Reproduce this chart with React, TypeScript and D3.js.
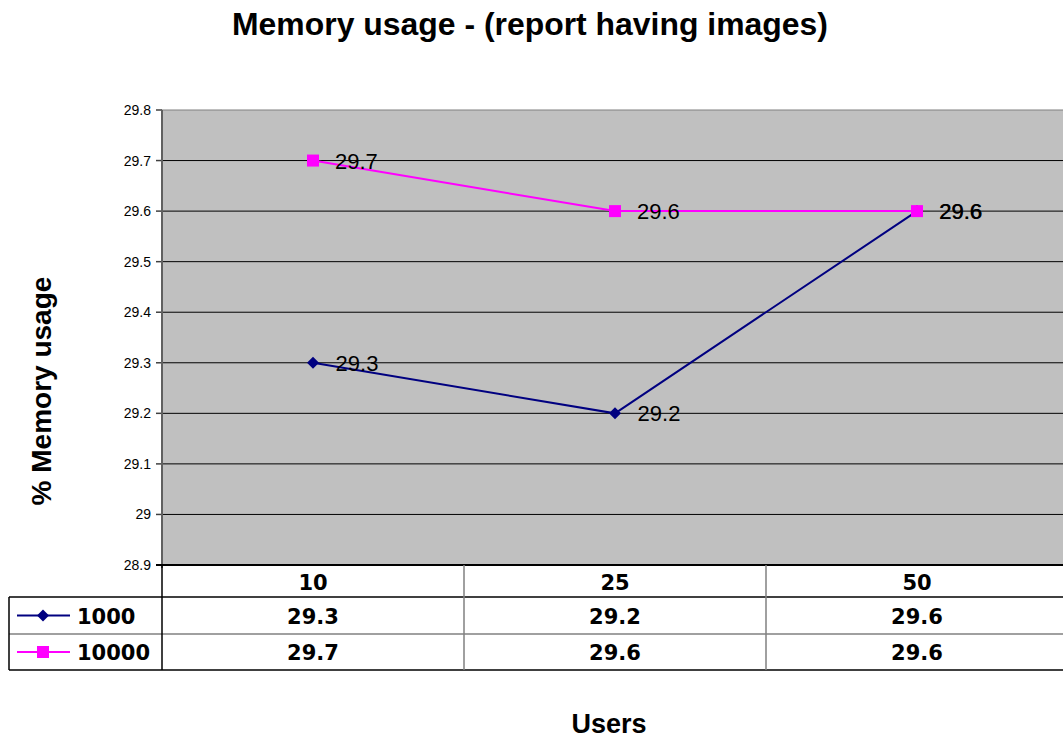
import React from "react";
import * as d3 from "d3";

const categories = ["10", "25", "50"];
const seriesNames = ["1000", "10000"];
const series1000 = [29.3, 29.2, 29.6];
const series10000 = [29.7, 29.6, 29.6];
const yTicks = [28.9, 29, 29.1, 29.2, 29.3, 29.4, 29.5, 29.6, 29.7, 29.8];
const colors = ["#000080", "#FF00FF"];

export default function App() {
  const W = 1063, H = 738;
  const left = 162, right = 1068, top = 110, bottom = 565;
  const x = d3.scaleBand<string>().domain(categories).range([left, right]);
  const y = d3.scaleLinear().domain([28.9, 29.8]).range([bottom, top]);
  const cx = (c: string) => (x(c) as number) + x.bandwidth() / 2;
  const line = d3.line<[string, number]>().x((d) => cx(d[0])).y((d) => y(d[1]));
  const allSeries = [series1000, series10000];
  const rowTops = [597, 634];
  const rowBottom = 670;
  const sans = "'Liberation Sans', Arial, sans-serif";
  const verd = "'DejaVu Sans', Verdana, sans-serif";

  return (
    <svg width={W} height={H} style={{ position: "absolute", left: 0, top: 0, background: "#fff" }}>
      <text x={530} y={35} textAnchor="middle" fontFamily={sans} fontWeight="bold" fontSize={32}
        textLength={596} lengthAdjust="spacingAndGlyphs">Memory usage - (report having images)</text>
      {/* plot background */}
      <rect x={left} y={top} width={right - left} height={bottom - top} fill="#C0C0C0" stroke="#808080" strokeWidth={1} />
      {yTicks.map((t) => (
        <g key={t}>
          {t > 28.9 && t < 29.8 && <line x1={left} x2={right} y1={y(t)} y2={y(t)} stroke="#000" strokeWidth={1} />}
          <line x1={left - 6} x2={left} y1={y(t)} y2={y(t)} stroke="#404040" strokeWidth={1.5} />
          <text x={151} y={y(t) + 5} textAnchor="end" fontFamily={sans} fontSize={14}>{d3.format("")(+t.toFixed(1))}</text>
        </g>
      ))}
      <line x1={left} x2={left} y1={top} y2={bottom + 3} stroke="#606060" strokeWidth={2} />
      <line x1={left - 6} x2={right} y1={bottom} y2={bottom} stroke="#000" strokeWidth={2} />

      {/* series lines */}
      {allSeries.map((s, i) => (
        <path key={i} d={line(categories.map((c, j) => [c, s[j]]) as [string, number][]) || ""}
          fill="none" stroke={colors[i]} strokeWidth={2} />
      ))}
      {/* markers */}
      {series1000.map((v, j) => {
        const px = cx(categories[j]), py = y(v);
        return <path key={"d" + j} d={`M${px},${py - 6}L${px + 6},${py}L${px},${py + 6}L${px - 6},${py}Z`} fill={colors[0]} />;
      })}
      {series10000.map((v, j) => {
        const px = cx(categories[j]), py = y(v);
        return <rect key={"s" + j} x={px - 6} y={py - 6} width={12} height={12} fill={colors[1]} />;
      })}
      {/* data labels */}
      {allSeries.map((s, i) =>
        s.map((v, j) => (
          <text key={i + "-" + j} x={cx(categories[j]) + 22 + (i === 0 ? 0.6 : 0)} y={y(v) + 8} fontFamily={sans} fontSize={22} fill="#000">
            {v.toFixed(1)}
          </text>
        ))
      )}

      {/* data table */}
      <line x1={9} x2={right} y1={rowTops[0]} y2={rowTops[0]} stroke="#000" strokeWidth={1.5} />
      <line x1={9} x2={right} y1={rowTops[1]} y2={rowTops[1]} stroke="#808080" strokeWidth={1.5} />
      <line x1={9} x2={right} y1={rowBottom} y2={rowBottom} stroke="#000" strokeWidth={1.5} />
      <line x1={9} x2={9} y1={rowTops[0]} y2={rowBottom} stroke="#000" strokeWidth={1.5} />
      <line x1={left} x2={left} y1={bottom} y2={rowBottom} stroke="#000" strokeWidth={1.5} />
      {categories.slice(1).map((c) => (
        <line key={c} x1={x(c) as number} x2={x(c) as number} y1={bottom} y2={rowBottom} stroke="#808080" strokeWidth={1.5} />
      ))}
      {categories.map((c) => (
        <text key={c} x={cx(c)} y={590} textAnchor="middle" fontFamily={verd} fontWeight="bold" fontSize={21}>{c}</text>
      ))}
      {allSeries.map((s, i) => {
        const rowMid = (rowTops[i] + (i === 0 ? rowTops[1] : rowBottom)) / 2;
        return (
          <g key={"row" + i}>
            <line x1={17} x2={70} y1={rowMid} y2={rowMid} stroke={colors[i]} strokeWidth={2} />
            {i === 0 ? (
              <path d={`M43,${rowMid - 6}L49,${rowMid}L43,${rowMid + 6}L37,${rowMid}Z`} fill={colors[0]} />
            ) : (
              <rect x={37} y={rowMid - 6} width={12} height={12} fill={colors[1]} />
            )}
            <text x={77} y={rowMid + 8} fontFamily={verd} fontWeight="bold" fontSize={21}>{seriesNames[i]}</text>
            {s.map((v, j) => (
              <text key={j} x={cx(categories[j])} y={rowMid + 8} textAnchor="middle" fontFamily={verd} fontWeight="bold" fontSize={21}>
                {v.toFixed(1)}
              </text>
            ))}
          </g>
        );
      })}

      <text transform={`translate(51,391) rotate(-90)`} textAnchor="middle" fontFamily={sans} fontWeight="bold" fontSize={28}>% Memory usage</text>
      <text x={609} y={733} textAnchor="middle" fontFamily={sans} fontWeight="bold" fontSize={27}>Users</text>
    </svg>
  );
}
